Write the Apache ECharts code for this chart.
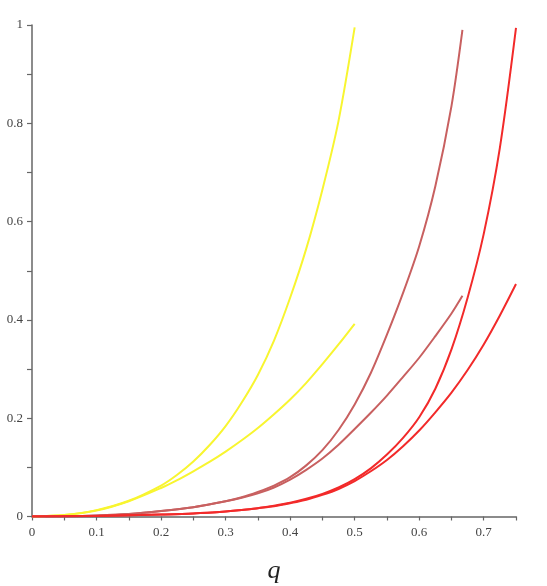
<!DOCTYPE html>
<html>
<head>
<meta charset="utf-8">
<style>
  html, body { margin: 0; padding: 0; background: #fff; }
  #chart { width: 547px; height: 586px; }
</style>
<script src="https://cdn.jsdelivr.net/npm/echarts@6/dist/echarts.min.js"></script>
</head>
<body>
<div id="chart"></div>
<script>
// q values and curve heights
const qYellow = [0, 0.05, 0.1, 0.15, 0.2, 0.225, 0.25, 0.275, 0.3, 0.325, 0.35, 0.375, 0.4, 0.425, 0.45, 0.475, 0.5]
const yellowUpper = [0, 0.003, 0.013, 0.032, 0.063, 0.085, 0.112, 0.145, 0.184, 0.232, 0.288, 0.358, 0.445, 0.545, 0.665, 0.805, 0.995]
const yellowLower = [0, 0.003, 0.012, 0.031, 0.058, 0.074, 0.092, 0.111, 0.132, 0.155, 0.180, 0.208, 0.238, 0.272, 0.310, 0.350, 0.392]

const qBrown = [0, 0.05, 0.1, 0.15, 0.2, 0.25, 0.3, 0.325, 0.35, 0.375, 0.4, 0.425, 0.45, 0.475, 0.5, 0.525, 0.55, 0.575, 0.6, 0.625, 0.65, 0.667]
const brownUpper = [0, 0.0005, 0.002, 0.005, 0.011, 0.019, 0.031, 0.039, 0.050, 0.063, 0.080, 0.104, 0.135, 0.176, 0.228, 0.292, 0.370, 0.455, 0.55, 0.672, 0.835, 0.99]
const brownLower = [0, 0.0005, 0.002, 0.005, 0.011, 0.019, 0.031, 0.038, 0.047, 0.059, 0.075, 0.095, 0.118, 0.146, 0.178, 0.211, 0.246, 0.284, 0.323, 0.367, 0.413, 0.449]

const qRed = [0, 0.1, 0.2, 0.25, 0.3, 0.325, 0.35, 0.375, 0.4, 0.425, 0.45, 0.475, 0.5, 0.525, 0.55, 0.575, 0.6, 0.625, 0.65, 0.675, 0.7, 0.725, 0.75]
const redUpper = [0, 0.001, 0.004, 0.006, 0.010, 0.013, 0.017, 0.022, 0.028, 0.036, 0.046, 0.059, 0.076, 0.098, 0.126, 0.160, 0.202, 0.260, 0.340, 0.445, 0.575, 0.750, 0.994]
const redLower = [0, 0.001, 0.004, 0.006, 0.010, 0.013, 0.017, 0.021, 0.027, 0.034, 0.044, 0.056, 0.072, 0.092, 0.115, 0.143, 0.175, 0.212, 0.252, 0.298, 0.350, 0.409, 0.473]

const xLabels = ['0', '0.1', '0.2', '0.3', '0.4', '0.5', '0.6', '0.7']
const yLabels = ['0', '0.2', '0.4', '0.6', '0.8', '1']

const pairs = (xs, ys) => xs.map((x, i) => [x, ys[i]])

const axisGray = '#666'
const serif = '"Liberation Serif", "DejaVu Serif", serif'

const curve = (data, color) => ({
  type: 'line',
  data: data,
  smooth: 0.3,
  showSymbol: false,
  silent: true,
  lineStyle: { color: color, width: 2 },
  z: 3
})

const chart = echarts.init(document.getElementById('chart'))

chart.setOption({
  animation: false,
  grid: { left: 32, right: 31, top: 25, bottom: 69.5, outerBoundsMode: 'none' },
  xAxis: {
    type: 'value',
    min: 0,
    max: 0.75,
    interval: 0.05,
    splitLine: { show: false },
    axisLine: { lineStyle: { color: axisGray, width: 1.5 } },
    axisTick: { length: 4, lineStyle: { color: axisGray, width: 1.2 } },
    axisLabel: {
      margin: 10,
      color: '#444',
      fontFamily: serif,
      fontSize: 13,
      formatter: v => {
        const k = Math.round(v * 100)
        return k % 10 === 0 ? xLabels[k / 10] : ''
      }
    },
    name: 'q',
    nameLocation: 'middle',
    nameGap: 42,
    nameTextStyle: { fontFamily: serif, fontStyle: 'italic', fontSize: 26, color: '#222' }
  },
  yAxis: {
    type: 'value',
    min: 0,
    max: 1,
    interval: 0.1,
    splitLine: { show: false },
    axisLine: { show: true, lineStyle: { color: axisGray, width: 1.5 } },
    axisTick: { show: true, length: 5, lineStyle: { color: axisGray, width: 1.2 } },
    axisLabel: {
      margin: 9,
      color: '#444',
      fontFamily: serif,
      fontSize: 13,
      formatter: v => {
        const k = Math.round(v * 10)
        return k % 2 === 0 ? yLabels[k / 2] : ''
      }
    }
  },
  series: [
    curve(pairs(qYellow, yellowUpper), '#f8f530'),
    curve(pairs(qYellow, yellowLower), '#f8f530'),
    curve(pairs(qBrown, brownUpper), '#c86060'),
    curve(pairs(qBrown, brownLower), '#c86060'),
    curve(pairs(qRed, redUpper), '#f22a2a'),
    curve(pairs(qRed, redLower), '#f22a2a')
  ]
})
</script>
</body>
</html>
